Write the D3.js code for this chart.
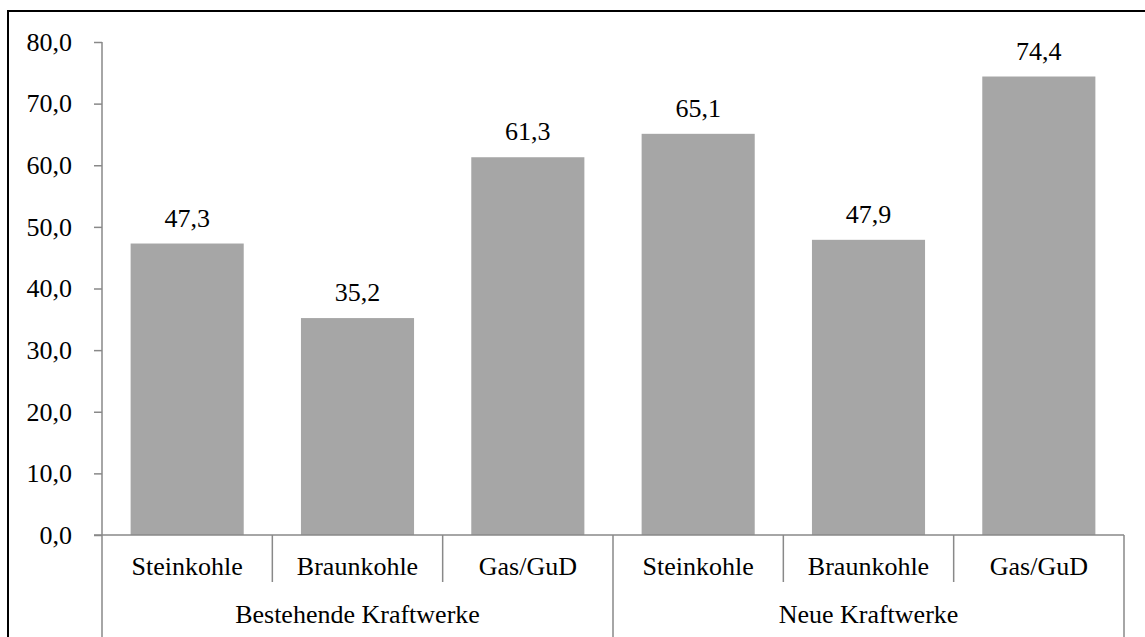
<!DOCTYPE html>
<html>
<head>
<meta charset="utf-8">
<script src="https://cdn.jsdelivr.net/npm/d3@7"></script>
<style>
  html, body { margin: 0; padding: 0; background: #fff; }
  svg { display: block; }
</style>
</head>
<body>
<svg id="chart" width="1145" height="637"></svg>
<script>
// Kostenwerte je Kraftwerkstyp
const groups = ["Bestehende Kraftwerke", "Neue Kraftwerke"];
const fuels = ["Steinkohle", "Braunkohle", "Gas/GuD"];
const valuesBestehend = [47.3, 35.2, 61.3];
const valuesNeu = [65.1, 47.9, 74.4];
const yTicks = [0, 10, 20, 30, 40, 50, 60, 70, 80];

const rows = [];
groups.forEach((g, gi) => {
  const vals = gi === 0 ? valuesBestehend : valuesNeu;
  fuels.forEach((f, fi) => rows.push({ key: g + "|" + f, group: g, fuel: f, value: vals[fi] }));
});

const fmt = v => d3.format(".1f")(v).replace(".", ",");

const svg = d3.select("#chart");
const plotLeft = 102, plotRight = 1124, plotTop = 42, plotBottom = 535;
const axisColor = "#898989";
const fontSize = 26;
const serif = "'Liberation Serif', 'Times New Roman', serif";

const x = d3.scaleBand().domain(rows.map(d => d.key)).range([plotLeft, plotRight])
  .paddingInner(0.336).paddingOuter(0.168);
const y = d3.scaleLinear().domain([0, 80]).range([plotBottom, plotTop]);

const styleText = sel => sel
  .style("font-family", serif)
  .style("font-size", fontSize + "px")
  .style("fill", "#000");

// outer frame
svg.append("path")
  .attr("d", `M8,637 V11 H1145`)
  .attr("fill", "none").attr("stroke", "#000").attr("stroke-width", 2);

// bars
svg.append("g").selectAll("rect").data(rows).join("rect")
  .attr("x", d => x(d.key))
  .attr("width", x.bandwidth())
  .attr("y", d => y(d.value))
  .attr("height", d => y(0) - y(d.value))
  .attr("fill", "#a6a6a6");

// value labels
svg.append("g").selectAll("text").data(rows).join("text")
  .attr("x", d => x(d.key) + x.bandwidth() / 2)
  .attr("y", d => y(d.value) - 17)
  .attr("text-anchor", "middle")
  .call(styleText)
  .text(d => fmt(d.value));

// y axis
const yAxis = d3.axisLeft(y).tickValues(yTicks).tickSize(8).tickPadding(22).tickFormat(fmt);
const gy = svg.append("g").attr("transform", `translate(${plotLeft},0)`).call(yAxis);
gy.select(".domain").remove();
gy.selectAll(".tick line").attr("stroke", axisColor).attr("stroke-width", 1.5);
gy.selectAll(".tick text").call(styleText);

const lines = svg.append("g").attr("stroke", axisColor).attr("stroke-width", 1.5);
// vertical axis line, running down through the category rows
lines.append("line").attr("x1", plotLeft).attr("x2", plotLeft).attr("y1", plotTop).attr("y2", 637);
// baseline
lines.append("line").attr("x1", plotLeft - 8).attr("x2", plotRight).attr("y1", y(0)).attr("y2", y(0));

// category dividers
const slotStart = i => plotLeft + i * (plotRight - plotLeft) / rows.length;
for (let i = 1; i < rows.length; i++) {
  const xx = slotStart(i);
  const isGroupEdge = i % fuels.length === 0;
  lines.append("line").attr("x1", xx).attr("x2", xx)
    .attr("y1", y(0)).attr("y2", isGroupEdge ? 637 : 582);
}
lines.append("line").attr("x1", plotRight).attr("x2", plotRight).attr("y1", y(0)).attr("y2", 637);

// category labels
svg.append("g").selectAll("text").data(rows).join("text")
  .attr("x", d => x(d.key) + x.bandwidth() / 2)
  .attr("y", 575)
  .attr("text-anchor", "middle")
  .call(styleText)
  .text(d => d.fuel);

// group labels
svg.append("g").selectAll("text").data(groups).join("text")
  .attr("x", (g, i) => (slotStart(i * fuels.length) + slotStart((i + 1) * fuels.length)) / 2)
  .attr("y", 623)
  .attr("text-anchor", "middle")
  .call(styleText)
  .text(g => g);
</script>
</body>
</html>
